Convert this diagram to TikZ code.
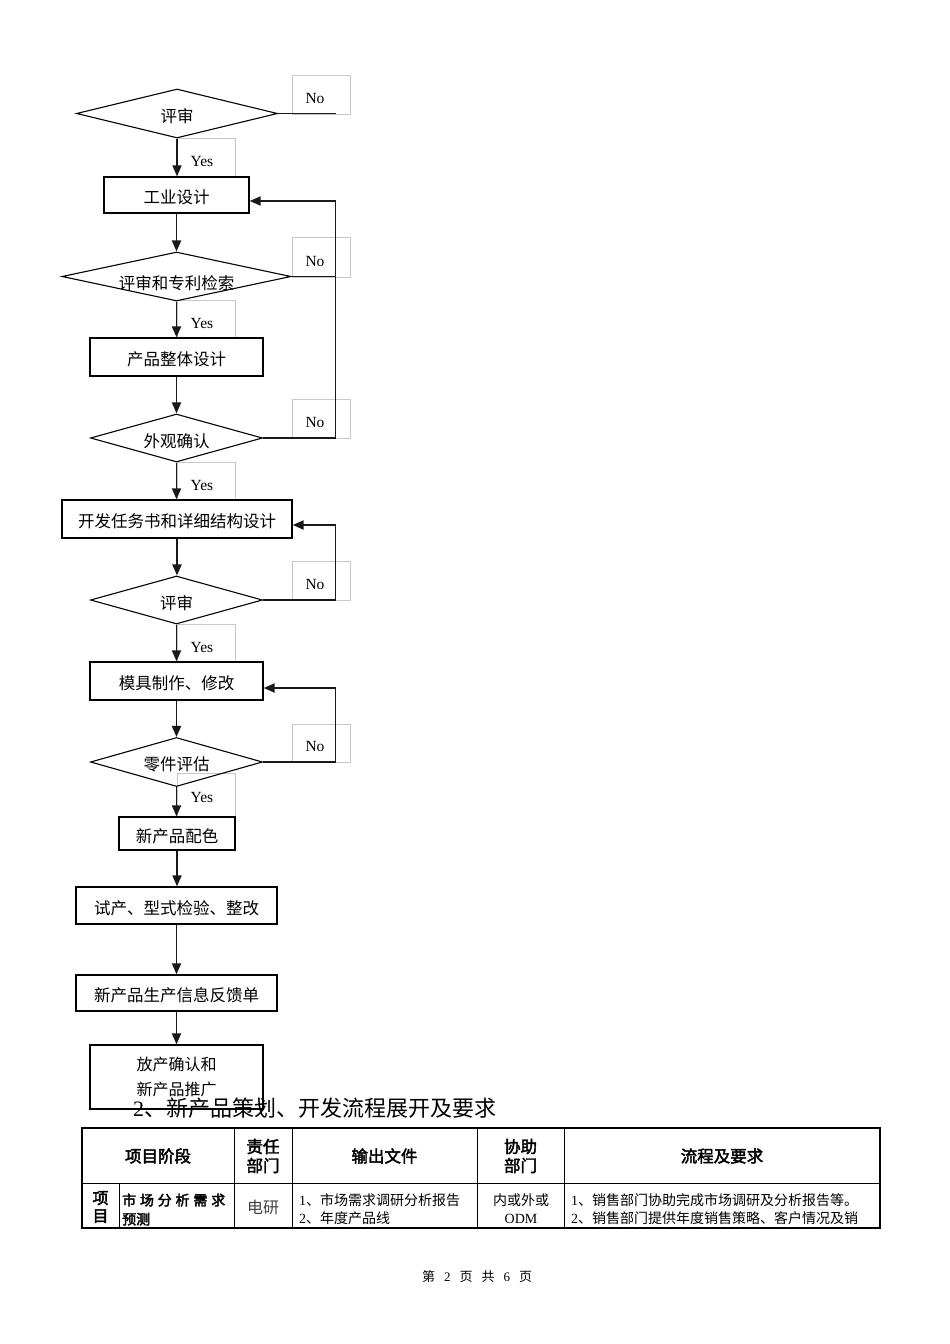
\documentclass[tikz,border=0pt]{standalone}
\usepackage{fontspec}
\setmainfont{Liberation Serif}
\newfontfamily\cjk[AutoFakeBold=2.5]{Noto Sans CJK SC}
\usetikzlibrary{shapes.geometric,arrows.meta,calc}
\newcommand\dn[2][3pt]{\raisebox{-#1}[\height][\depth]{#2}}
\begin{document}
\begin{tikzpicture}[x=1pt,y=-1pt,
  box/.style={draw, line width=1.3pt, inner sep=0pt, font=\cjk\fontsize{16.5}{19}\selectfont},
  dia/.style={draw, diamond, line width=1.1pt, inner sep=0pt, font=\cjk\fontsize{16.5}{19}\selectfont},
  lbl/.style={draw=black!22, line width=0.6pt, inner sep=0pt, font=\fontsize{15.5}{18}\selectfont},
  conn/.style={line width=1.9pt, draw=black!90},
  arr/.style={conn, -{Triangle[length=11pt,width=9pt]}},
  cell/.style={inner sep=0pt, font=\cjk\fontsize{14}{18}\selectfont},
  hcell/.style={inner sep=0pt, align=center, font=\cjk\bfseries\fontsize{16.5}{19}\selectfont},
]
\fill[white] (0,0) rectangle (950,1344);
\useasboundingbox (0,0) rectangle (950,1344);

% label boxes (grey)
\node[lbl, minimum width=58pt, minimum height=39pt] (no1) at (321,94.5) {\dn[4pt]{No}\hspace*{12pt}};
\node[lbl, minimum width=58pt, minimum height=40pt] (no2) at (321,257) {\dn[4pt]{No}\hspace*{12pt}};
\node[lbl, minimum width=58pt, minimum height=39pt] (no3) at (321,418.5) {\dn[4pt]{No}\hspace*{12pt}};
\node[lbl, minimum width=58pt, minimum height=39pt] (no4) at (321,580.5) {\dn[4pt]{No}\hspace*{12pt}};
\node[lbl, minimum width=58pt, minimum height=38pt] (no5) at (321,743) {\dn[3pt]{No}\hspace*{12pt}};
\node[lbl, minimum width=58pt, minimum height=39pt] (y1) at (206,157.5) {\dn[4pt]{Yes}\hspace*{8pt}};
\node[lbl, minimum width=58pt, minimum height=38pt] (y2) at (206,319) {\dn[4pt]{Yes}\hspace*{8pt}};
\node[lbl, minimum width=58pt, minimum height=38pt] (y3) at (206,481) {\dn[4pt]{Yes}\hspace*{8pt}};
\node[lbl, minimum width=58pt, minimum height=38pt] (y4) at (206,643) {\dn[4pt]{Yes}\hspace*{8pt}};
\node[lbl, minimum width=58pt, minimum height=44pt] (y5) at (206,795) {\dn[2pt]{Yes}\hspace*{8pt}};

% flowchart nodes
\node[dia, aspect=4.1, minimum width=201pt, minimum height=49pt, fill=white] (d1) at (177,113.5) {\dn{评审}};
\node[box, minimum width=145pt, minimum height=36pt, fill=white] (b1) at (176.5,195) {\dn[2.5pt]{工业设计}};
\node[dia, aspect=4.7, minimum width=229pt, minimum height=49pt] (d2) at (176.5,276.5) {\dn[7pt]{评审和专利检索}};
\node[box, minimum width=173pt, minimum height=38pt, fill=white] (b2) at (176.5,357) {\dn[2.5pt]{产品整体设计}};
\node[dia, aspect=3.6, minimum width=172pt, minimum height=48pt] (d3) at (176.5,438) {\dn{外观确认}};
\node[box, minimum width=230pt, minimum height=38pt, fill=white] (b3) at (177,519) {\dn[2.5pt]{开发任务书和详细结构设计}};
\node[dia, aspect=3.6, minimum width=172pt, minimum height=48pt] (d4) at (176.5,600) {\dn{评审}};
\node[box, minimum width=173pt, minimum height=38pt, fill=white] (b4) at (176.5,681) {\dn[2.5pt]{模具制作、修改}};
\node[dia, aspect=3.6, minimum width=172pt, minimum height=49pt] (d5) at (176.5,762) {\dn[2pt]{零件评估}};
\node[box, minimum width=116pt, minimum height=33pt, fill=white] (b5) at (177,833.5) {\dn[2.5pt]{新产品配色}};
\node[box, minimum width=201pt, minimum height=37pt] (b6) at (176.5,905.5) {\dn[2.5pt]{试产、型式检验、整改}};
\node[box, minimum width=201pt, minimum height=36pt] (b7) at (176.5,993) {\dn[2.5pt]{新产品生产信息反馈单}};
\node[box, minimum width=173pt, minimum height=64pt, align=left, font=\cjk\fontsize{16}{25}\selectfont] (b8) at (176.5,1077) {放产确认和\\新产品推广};

% main flow
\draw[arr] (d1.south) -- (d1.south |- b1.north);
\draw[arr] (b1.south) -- (b1.south |- d2.north);
\draw[arr] (d2.south) -- (d2.south |- b2.north);
\draw[arr] (b2.south) -- (b2.south |- d3.north);
\draw[arr] (d3.south) -- (d3.south |- b3.north);
\draw[arr] (b3.south) -- (b3.south |- d4.north);
\draw[arr] (d4.south) -- (d4.south |- b4.north);
\draw[arr] (b4.south) -- (b4.south |- d5.north);
\draw[arr] (d5.south) -- (d5.south |- b5.north);
\draw[arr] (b5.south) -- (b5.south |- b6.north);
\draw[arr] (b6.south) -- (b6.south |- b7.north);
\draw[arr] (b7.south) -- (b7.south |- b8.north);

% No branches
\coordinate (n1) at (336,113.5);
\draw[conn] (d1.east) -- (n1);
\coordinate (f1) at (335.5,201);
\draw[arr] (d2.east) -| (f1) -- (b1.east |- f1);
\draw[conn] (d3.east) -| (d2.east -| f1);
\coordinate (f2) at (335.5,525);
\draw[arr] (d4.east) -| (f2) -- (b3.east |- f2);
\coordinate (f3) at (335.5,688);
\draw[arr] (d5.east) -| (f3) -- (b4.east |- f3);

% heading
\node[anchor=west, inner sep=0pt, font=\cjk\fontsize{22}{26}\selectfont] (head) at (133,1108) {{\rmfamily 2}、新产品策划、开发流程展开及要求};

% table
\draw[line width=1.3pt] (82,1128) rectangle (880,1228);
\draw[line width=0.8pt] (82,1183) -- (880,1183);
\draw[line width=0.8pt] (119,1183) -- (119,1228);
\draw[line width=0.8pt] (234,1128) -- (234,1228);
\draw[line width=0.8pt] (292,1128) -- (292,1228);
\draw[line width=0.8pt] (477,1128) -- (477,1228);
\draw[line width=0.8pt] (564,1128) -- (564,1228);

\node[hcell] (t1) at (158,1156) {项目阶段};
\node[hcell] (t2) at (263,1156) {责任\\部门};
\node[hcell] (t3) at (384.5,1156) {输出文件};
\node[hcell] (t4) at (520.5,1156) {协助\\部门};
\node[hcell] (t5) at (722,1156) {流程及要求};

\node[inner sep=0pt, align=center, font=\cjk\bfseries\fontsize{16}{18}\selectfont] (r1) at (100.5,1207) {项\\目};
\node[inner sep=0pt, anchor=west, align=left, font=\cjk\bfseries\fontsize{14}{19}\selectfont] (r2) at (122,1209.5) {\makebox[103pt][s]{市\hfill 场\hfill 分\hfill 析\hfill 需\hfill 求}\\预测};
\node[inner sep=0pt, font=\cjk\fontsize{16}{18}\selectfont, text=black!75] (r3) at (263,1207) {电研};
\node[cell, anchor=west, align=left] (r4) at (299,1209) {{\rmfamily 1}、市场需求调研分析报告\\{\rmfamily 2}、年度产品线};
\node[cell, align=center] (r5) at (521,1209) {内或外或\\{\rmfamily ODM}};
\node[cell, anchor=west, align=left] (r6) at (571,1209) {{\rmfamily 1}、销售部门协助完成市场调研及分析报告等。\\{\rmfamily 2}、销售部门提供年度销售策略、客户情况及销};

% footer
\node[inner sep=0pt, font=\cjk\fontsize{13}{15}\selectfont] (foot) at (477,1277) {第\hspace{9pt}{\rmfamily 2}\hspace{9pt}页\hspace{9pt}共\hspace{9pt}{\rmfamily 6}\hspace{9pt}页};
\end{tikzpicture}
\end{document}
